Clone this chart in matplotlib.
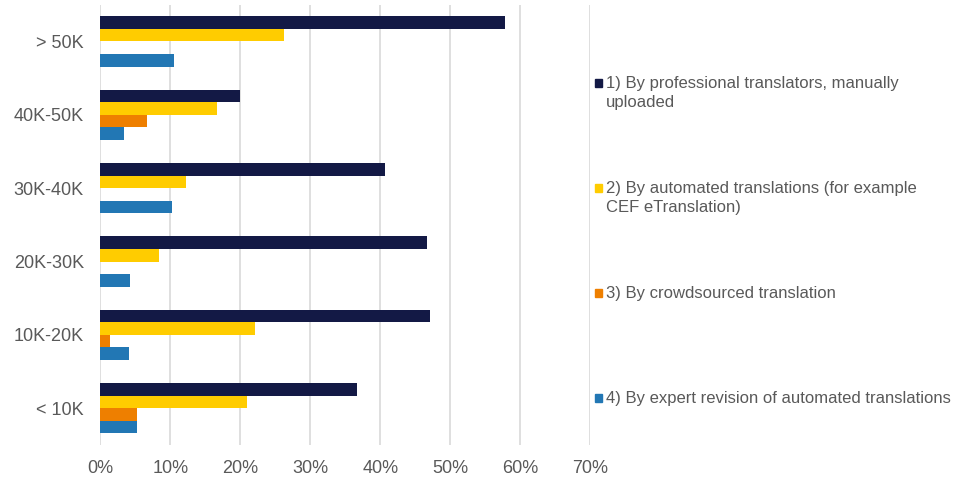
import numpy as np
import matplotlib.pyplot as plt
from matplotlib.patches import Rectangle

plt.rcParams['font.family'] = ['Liberation Sans', 'DejaVu Sans']

categories = ['> 50K', '40K-50K', '30K-40K', '20K-30K', '10K-20K', '< 10K']
series_names = ['1) By professional translators, manually\nuploaded',
                '2) By automated translations (for example\nCEF eTranslation)',
                '3) By crowdsourced translation',
                '4) By expert revision of automated translations']
professional = [57.8, 19.9, 40.7, 46.7, 47.1, 36.7]
automated = [26.3, 16.6, 12.2, 8.4, 22.1, 21.0]
crowdsourced = [0.0, 6.6, 0.0, 0.0, 1.3, 5.2]
expert = [10.5, 3.3, 10.2, 4.2, 4.1, 5.2]
colors = ['#131945', '#FFCC00', '#EE7F00', '#2277B4']
text_color = '#595959'

values = [professional, automated, crowdsourced, expert]

fig = plt.figure(figsize=(9.57, 4.83), dpi=100)
ax = fig.add_axes([0.105, 0.079, 0.5115, 0.911])

y = np.arange(len(categories))
h = 0.172
for i, vals in enumerate(values):
    ax.barh(y - 1.5 * h + i * h, np.array(vals) / 100, height=h, color=colors[i], zorder=3)

ax.set_ylim(len(categories) - 0.5, -0.5)
ax.set_xlim(0, 0.7)
ax.set_xticks(np.arange(0, 0.71, 0.1))
ax.set_xticklabels(['%d%%' % round(t * 100) for t in np.arange(0, 0.71, 0.1)])
ax.set_yticks(y)
ax.set_yticklabels(categories)
ax.tick_params(axis='both', length=0, labelsize=13, colors=text_color)
ax.tick_params(axis='y', pad=12)
ax.tick_params(axis='x', pad=11)
ax.grid(axis='x', color='#D9D9D9', linewidth=1.2, zorder=0)
for s in ax.spines.values():
    s.set_visible(False)

# legend, drawn by hand
W, H = 957, 483
for i, name in enumerate(series_names):
    ypx = 83 + i * 105
    fig.add_artist(Rectangle(((595) / W, 1 - (ypx + 4) / H), 7 / W, 8 / H,
                             transform=fig.transFigure, color=colors[i]))
    fig.text(606 / W, 1 - (ypx - 7) / H, name, fontsize=12, color=text_color,
             va='top', ha='left', linespacing=1.36)

fig.savefig('out.png', dpi=100)
